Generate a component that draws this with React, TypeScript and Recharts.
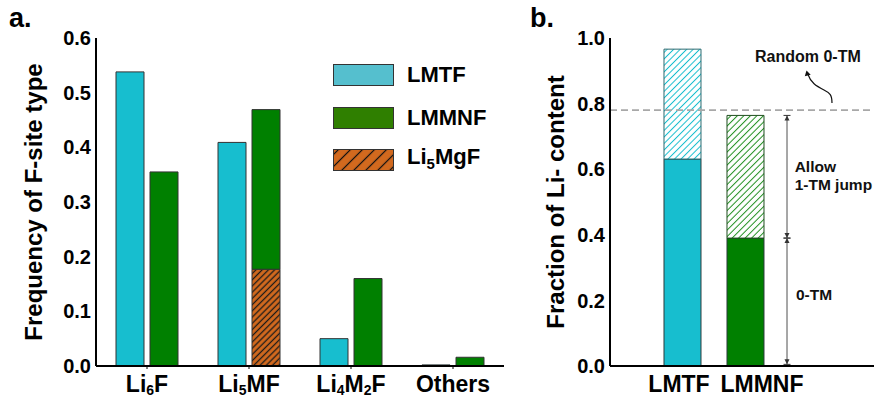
import React from "react";
import {
  BarChart,
  Bar,
  XAxis,
  YAxis,
  Legend,
  Cell,
  ReferenceLine,
  ReferenceDot,
} from "recharts";

// ---------- data (panel a) ----------
const categoriesA = ["Li6F", "Li5MF", "Li4M2F", "Others"];
const lmtfFreq = [0.538, 0.409, 0.05, 0.002];
const lmmnfFreq = [0.355, 0.469, 0.16, 0.016];
const li5mgfFreq = [0, 0.177, 0, 0];
const ticksA = [0, 0.1, 0.2, 0.3, 0.4, 0.5, 0.6];
const legendNames = ["LMTF", "LMMNF", "Li5MgF"];

// ---------- data (panel b) ----------
const categoriesB = ["LMTF", "LMMNF"];
const zeroTM = [0.631, 0.39];
const withOneTM = [0.966, 0.764];
const randomZeroTM = 0.78;
const ticksB = [0, 0.2, 0.4, 0.6, 0.8, 1.0];

const dataA = categoriesA.map((c, i) => ({
  cat: c,
  lmtf: lmtfFreq[i],
  li5mgf: li5mgfFreq[i],
  lmmnfRest: +(lmmnfFreq[i] - li5mgfFreq[i]).toFixed(4),
}));

const dataB = categoriesB.map((c, i) => ({
  x: i,
  cat: c,
  solid: zeroTM[i],
  hatch: +(withOneTM[i] - zeroTM[i]).toFixed(4),
}));

const FONT = "'Liberation Sans', Arial, Helvetica, sans-serif";
const CYAN = "#17becf";
const GREEN = "#008000";
const ORANGE = "#d2691e";

function renderSub(text: string, sub: number, shift: number) {
  const parts = text.split(/(\d+)/).filter((p) => p.length > 0);
  const out: any[] = [];
  let down = false;
  parts.forEach((p, i) => {
    if (/^\d+$/.test(p)) {
      out.push(
        <tspan key={i} dy={shift} fontSize={sub}>
          {p}
        </tspan>
      );
      down = true;
    } else {
      out.push(
        <tspan key={i} dy={down ? -shift : 0}>
          {p}
        </tspan>
      );
      down = false;
    }
  });
  return out;
}

const TickA = (props: any) => {
  const { x, y, payload } = props;
  return (
    <text
      x={x}
      y={y + 21}
      textAnchor="middle"
      fontFamily={FONT}
      fontWeight={700}
      fontSize={23}
      fill="#000"
    >
      {renderSub(String(payload.value), 14, 3)}
    </text>
  );
};

const labelShiftB = [-3.5, 16.5];
const TickB = (props: any) => {
  const { x, y, payload } = props;
  const idx = Math.round(payload.value);
  return (
    <text
      x={x + (labelShiftB[idx] || 0)}
      y={y + 21}
      textAnchor="middle"
      fontFamily={FONT}
      fontWeight={700}
      fontSize={23}
      fill="#000"
    >
      {categoriesB[idx]}
    </text>
  );
};

const yTick = { fontSize: 20, fontWeight: 700, fill: "#000", fontFamily: FONT };

const YTitle = (offsetX: number, text: string) => (props: any) => {
  const vb = props.viewBox || {};
  const cx = (vb.x || 0) + offsetX;
  const cy = (vb.y || 0) + (vb.height || 0) / 2;
  return (
    <text
      x={cx}
      y={cy}
      transform={`rotate(-90, ${cx}, ${cy})`}
      textAnchor="middle"
      dominantBaseline="central"
      fontFamily={FONT}
      fontWeight={700}
      fontSize={24}
      fill="#000"
    >
      {text}
    </text>
  );
};

const legendFills = ["#55bfce", "#2f7f00", ORANGE];

const LegendA = () => (
  <div style={{ fontFamily: FONT, fontWeight: 700, fontSize: 22, color: "#000" }}>
    {legendNames.map((n, i) => (
      <div
        key={n}
        style={{ height: 42.5, display: "flex", alignItems: "center" }}
      >
        <svg width={61} height={22} style={{ display: "block" }}>
          <defs>
            <pattern
              id="legHatch"
              patternUnits="userSpaceOnUse"
              width={8.5}
              height={8.5}
              patternTransform="rotate(45)"
            >
              <rect width={8.5} height={8.5} fill={ORANGE} />
              <line x1={4.25} y1={0} x2={4.25} y2={8.5} stroke="#111" strokeWidth={1.2} />
            </pattern>
          </defs>
          <rect
            x={0.5}
            y={0.5}
            width={60}
            height={21}
            fill={i === 2 ? "url(#legHatch)" : legendFills[i]}
            stroke="#333"
            strokeWidth={1}
          />
        </svg>
        <span style={{ marginLeft: 13, lineHeight: "22px" }}>
          {n === "Li5MgF" ? (
            <>
              Li<sub style={{ fontSize: 15, verticalAlign: "-5px" }}>5</sub>MgF
            </>
          ) : (
            n
          )}
        </span>
      </div>
    ))}
  </div>
);

const TextShape = (txt: string, size: number) => (props: any) => (
  <text
    x={props.cx}
    y={props.cy}
    fontFamily={FONT}
    fontWeight={700}
    fontSize={size}
    fill="#111"
  >
    {txt}
  </text>
);

const CurvedArrow = (props: any) => {
  const { cx, cy } = props;
  const tx = cx - 25.5;
  const ty = cy - 32.5;
  return (
    <g>
      <path
        d={`M ${cx} ${cy} C ${cx} ${cy - 8} ${cx - 2} ${cy - 10} ${cx - 8} ${cy - 13} C ${cx - 16} ${cy - 17} ${cx - 21} ${cy - 20} ${tx + 1} ${ty + 3}`}
        fill="none"
        stroke="#111"
        strokeWidth={1.2}
      />
      <polygon
        points={`${tx},${ty} ${cx - 21.3},${cy - 28.2} ${cx - 27.2},${cy - 26.6}`}
        fill="#111"
      />
    </g>
  );
};

const DoubleArrow = (props: any) => {
  const { x1, y1, x2, y2 } = props;
  const x = x1;
  const top = Math.min(y1, y2);
  const bot = Math.max(y1, y2);
  return (
    <g>
      <line x1={x} y1={top} x2={x2} y2={bot} stroke="#8a8a8a" strokeWidth={1.5} />
      <line x1={x - 3.5} y1={top} x2={x + 3.5} y2={top} stroke="#333" strokeWidth={1} />
      <line x1={x - 3.5} y1={bot} x2={x + 3.5} y2={bot} stroke="#333" strokeWidth={1} />
      <polygon points={`${x},${top} ${x - 2.5},${top + 5} ${x + 2.5},${top + 5}`} fill="#333" />
      <polygon points={`${x},${bot} ${x - 2.5},${bot - 5} ${x + 2.5},${bot - 5}`} fill="#333" />
    </g>
  );
};

const hatchCells = ["url(#hatchCyan)", "url(#hatchGreen)"];
const hatchStroke = ["#2a6a70", "#1e4d1e"];
const solidFill = [CYAN, GREEN];

export default function App() {
  return (
    <div
      style={{
        position: "absolute",
        left: 0,
        top: 0,
        width: 874,
        height: 398,
        overflow: "hidden",
        background: "#fff",
      }}
    >
      <div
        style={{
          position: "absolute",
          left: 9,
          top: 5,
          fontFamily: FONT,
          fontWeight: 700,
          fontSize: 27,
          lineHeight: "27px",
        }}
      >
        a.
      </div>
      <div
        style={{
          position: "absolute",
          left: 530,
          top: 5,
          fontFamily: FONT,
          fontWeight: 700,
          fontSize: 27,
          lineHeight: "27px",
        }}
      >
        b.
      </div>

      <div style={{ position: "absolute", left: 0, top: 0 }}>
        <BarChart
          width={510}
          height={398}
          data={dataA}
          margin={{ top: 38, right: 6, bottom: 0, left: 0 }}
          barGap={6}
          barSize={28}
        >
          <defs>
            <pattern
              id="hatchOrange"
              patternUnits="userSpaceOnUse"
              width={4.4}
              height={4.4}
              patternTransform="rotate(45)"
            >
              <rect width={4.4} height={4.4} fill={ORANGE} />
              <line x1={2.2} y1={0} x2={2.2} y2={4.4} stroke="#1a1a1a" strokeWidth={1.3} />
            </pattern>
          </defs>
          <XAxis
            dataKey="cat"
            height={32}
            tick={<TickA />}
            tickSize={3}
            tickMargin={2}
            tickLine={{ stroke: "#000" }}
            axisLine={{ stroke: "#000", strokeWidth: 2 }}
            interval={0}
          />
          <XAxis
            xAxisId="top"
            dataKey="cat"
            orientation="top"
            height={0}
            tick={false}
            tickLine={false}
            axisLine={{ stroke: "#000", strokeWidth: 2 }}
          />
          <YAxis
            width={96}
            domain={[0, 0.6]}
            ticks={ticksA}
            tickFormatter={(v: number) => v.toFixed(1)}
            tick={yTick}
            tickLine={false}
            tickSize={0}
            tickMargin={5}
            axisLine={{ stroke: "#000", strokeWidth: 2 }}
            label={YTitle(33, "Frequency of F-site type")}
          />
          <YAxis
            yAxisId="right"
            orientation="right"
            width={0}
            domain={[0, 0.6]}
            tick={false}
            tickLine={false}
            axisLine={{ stroke: "#000", strokeWidth: 2 }}
          />
          <Legend
            layout="vertical"
            align="center"
            verticalAlign="middle"
            content={<LegendA />}
            wrapperStyle={{ top: 54, left: 333, width: "auto", height: "auto" }}
          />
          <Bar
            dataKey="lmtf"
            name="LMTF"
            stackId="a"
            fill={CYAN}
            stroke="#333"
            strokeWidth={1}
            isAnimationActive={false}
          />
          <Bar
            dataKey="li5mgf"
            name="Li5MgF"
            stackId="b"
            fill="url(#hatchOrange)"
            stroke="#333"
            strokeWidth={1}
            isAnimationActive={false}
          />
          <Bar
            dataKey="lmmnfRest"
            name="LMMNF"
            stackId="b"
            fill={GREEN}
            stroke="#333"
            strokeWidth={1}
            isAnimationActive={false}
          />
        </BarChart>
      </div>

      <div style={{ position: "absolute", left: 440, top: 0 }}>
        <BarChart
          width={460}
          height={398}
          data={dataB}
          margin={{ top: 38, right: 20, bottom: 0, left: 0 }}
          barSize={37}
        >
          <defs>
            <pattern
              id="hatchCyan"
              patternUnits="userSpaceOnUse"
              width={4.6}
              height={4.6}
              patternTransform="rotate(45)"
            >
              <rect width={4.6} height={4.6} fill="#fff" />
              <line x1={2.3} y1={0} x2={2.3} y2={4.6} stroke={CYAN} strokeWidth={1} />
            </pattern>
            <pattern
              id="hatchGreen"
              patternUnits="userSpaceOnUse"
              width={4.6}
              height={4.6}
              patternTransform="rotate(45)"
            >
              <rect width={4.6} height={4.6} fill="#fff" />
              <line x1={2.3} y1={0} x2={2.3} y2={4.6} stroke="#1f8f1f" strokeWidth={1} />
            </pattern>
          </defs>
          <XAxis
            dataKey="x"
            type="number"
            domain={[-1.1508, 3.135]}
            allowDataOverflow
            ticks={[0, 1]}
            height={32}
            tick={<TickB />}
            tickSize={3}
            tickMargin={2}
            tickLine={false}
            axisLine={{ stroke: "#000", strokeWidth: 2 }}
          />
          <XAxis
            xAxisId="top"
            dataKey="x"
            type="number"
            domain={[-1.1508, 3.135]}
            allowDataOverflow
            orientation="top"
            height={0}
            tick={false}
            tickLine={false}
            axisLine={{ stroke: "#000", strokeWidth: 2 }}
          />
          <YAxis
            width={170}
            domain={[0, 1]}
            ticks={ticksB}
            tickFormatter={(v: number) => v.toFixed(1)}
            tick={yTick}
            tickLine={false}
            tickSize={0}
            tickMargin={5}
            axisLine={{ stroke: "#000", strokeWidth: 2 }}
            label={YTitle(115, "Fraction of Li- content")}
          />
          <ReferenceLine
            y={randomZeroTM}
            stroke="#a8a8a8"
            strokeWidth={1.8}
            strokeDasharray="7 4"
          />
          <Bar dataKey="solid" stackId="s" isAnimationActive={false}>
            {dataB.map((d, i) => (
              <Cell key={d.cat} fill={solidFill[i]} stroke="#2b3b3b" strokeWidth={1} />
            ))}
          </Bar>
          <Bar dataKey="hatch" stackId="s" isAnimationActive={false}>
            {dataB.map((d, i) => (
              <Cell key={d.cat} fill={hatchCells[i]} stroke={hatchStroke[i]} strokeWidth={1} />
            ))}
          </Bar>
          <ReferenceLine
            segment={[
              { x: 1.659, y: withOneTM[1] },
              { x: 1.659, y: zeroTM[1] },
            ]}
            shape={DoubleArrow}
          />
          <ReferenceLine
            segment={[
              { x: 1.659, y: zeroTM[1] },
              { x: 1.659, y: 0.005 },
            ]}
            shape={DoubleArrow}
          />
          <ReferenceDot x={1.151} y={0.926} r={0} shape={TextShape("Random 0-TM", 16)} />
          <ReferenceDot x={2.373} y={0.802} r={0} shape={CurvedArrow} />
          <ReferenceDot x={1.78} y={0.591} r={0} shape={TextShape("Allow", 15.5)} />
          <ReferenceDot x={1.78} y={0.537} r={0} shape={TextShape("1-TM jump", 15.5)} />
          <ReferenceDot x={1.8} y={0.201} r={0} shape={TextShape("0-TM", 15.5)} />
        </BarChart>
      </div>
    </div>
  );
}
